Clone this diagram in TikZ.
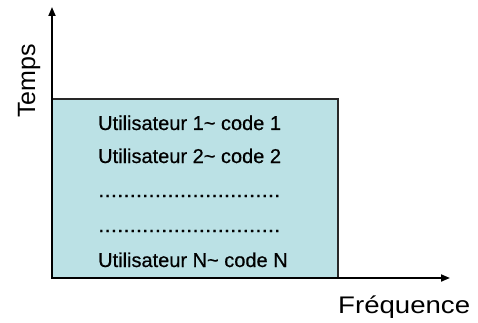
\documentclass[tikz,border=0pt]{standalone}
\usepackage{fontspec}
\setmainfont{Liberation Sans}
\newfontfamily\semibold[FakeBold=0.5]{Liberation Sans}
\usetikzlibrary{arrows.meta}
\definecolor{boxfill}{RGB}{187,225,229}
\definecolor{boxline}{RGB}{40,40,40}
\tikzset{
  axisline/.style={line width=1.8pt,-{Triangle[length=9pt,width=7pt]}},
  usertext/.style={anchor=base west,inner sep=0pt,font=\semibold\fontsize{20}{21}\selectfont},
  axislabel/.style={anchor=base west,inner sep=0pt},
}
\begin{document}
\begin{tikzpicture}[x=1pt,y=-1pt]
\useasboundingbox (0,0) rectangle (478,323);
\draw[fill=boxfill,draw=boxline,line width=1.3pt] (52,99) rectangle (338,278);
\coordinate (o) at (52,278);
\coordinate (ytip) at (52,7);
\coordinate (xtip) at (450,278);
\draw[axisline] (52,279) -- (ytip);
\draw[axisline] (51,278) -- (xtip);
\node[usertext] (u1) at (98,130) {Utilisateur 1\textasciitilde{} code 1};
\node[usertext] (u2) at (98,163) {Utilisateur 2\textasciitilde{} code 2};
\node[usertext] (d1) at (98,197) {\scalebox{1.13}[1]{.............................}};
\node[usertext] (d2) at (98,232) {\scalebox{1.13}[1]{.............................}};
\node[usertext] (un) at (98,267) {Utilisateur N\textasciitilde{} code N};
\node[axislabel,rotate=90,font=\fontsize{25}{26}\selectfont] (temps) at (35,118) {Temps};
\node[axislabel,font=\fontsize{24}{26}\selectfont] (freq) at (338,313) {\scalebox{1.15}[1]{Fréquence}};
\end{tikzpicture}
\end{document}
